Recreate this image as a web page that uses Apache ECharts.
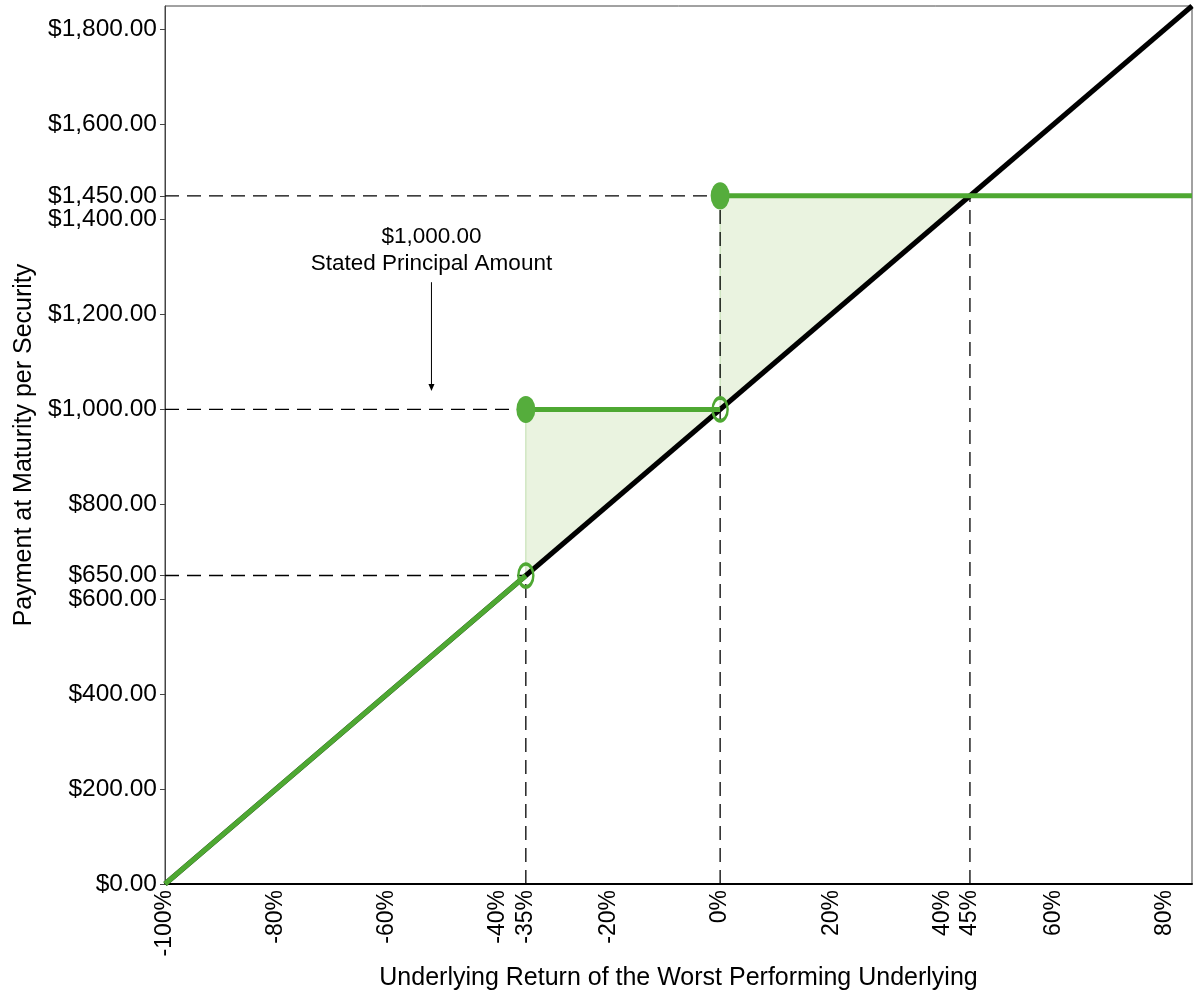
<!DOCTYPE html>
<html>
<head>
<meta charset="utf-8">
<script src="https://cdn.jsdelivr.net/npm/echarts@6/dist/echarts.min.js"></script>
<style>
  html, body { margin: 0; padding: 0; background: #fff; }
  #chart { width: 1200px; height: 1000px; }
</style>
</head>
<body>
<div id="chart"></div>
<script>
// payoff diagram data
var xTicks = [-100, -80, -60, -40, -35, -20, 0, 20, 40, 45, 60, 80];
var yTicks = [0, 200, 400, 600, 650, 800, 1000, 1200, 1400, 1450, 1600, 1800];
var underlyingLine = [[-100, 0], [85, 1850]];
var lowerLeg = [[-100, 0], [-35, 650]];
var midLeg = [[-35, 1000], [0, 1000]];
var upperLeg = [[0, 1450], [85, 1450]];
var filledDots = [[-35, 1000], [0, 1450]];
var openDots = [[-35, 650], [0, 1000]];
var shadeLower = [[-35, 650], [-35, 1000], [0, 1000]];
var shadeUpper = [[0, 1000], [0, 1450], [45, 1450]];
var guideLines = [
  [[-100, 1450], [0, 1450]],
  [[-100, 1000], [-35, 1000]],
  [[-100, 650], [-35, 650]],
  [[-35, 0], [-35, 650]],
  [[0, 0], [0, 1450]],
  [[45, 0], [45, 1450]]
];
var notePoint = [[-52, 1335]];
var noteText = '$1,000.00\nStated Principal Amount';
var arrowLine = [[-52, 1268], [-52, 1046]];

(function() {
  var green = '#4EA832';
  var dotGreen = '#55AD3C';
  var shade = '#EAF3E0';
  var font = "'Liberation Sans', Arial, sans-serif";

  var chart = echarts.init(document.getElementById('chart'), null, { renderer: 'canvas' });

  function money(v) {
    return '$' + v.toLocaleString('en-US', { minimumFractionDigits: 2, maximumFractionDigits: 2 });
  }

  function polygonSeries(pts) {
    return {
      type: 'custom',
      silent: true,
      z: 1,
      data: pts,
      renderItem: function(params, api) {
        if (params.dataIndex !== 0) return null;
        return {
          type: 'polygon',
          shape: { points: pts.map(function(p) { return api.coord(p); }) },
          style: { fill: shade, stroke: '#BFDDAE', lineWidth: 1 }
        };
      }
    };
  }

  var series = [polygonSeries(shadeLower), polygonSeries(shadeUpper)];

  guideLines.forEach(function(seg) {
    series.push({
      type: 'line',
      data: seg,
      symbol: 'none',
      silent: true,
      z: 2,
      lineStyle: { color: '#000', width: 1.3, type: [14, 8] }
    });
  });

  series.push({
    type: 'line',
    data: underlyingLine,
    symbol: 'none',
    z: 3,
    lineStyle: { color: '#000', width: 5 }
  });

  [lowerLeg, midLeg, upperLeg].forEach(function(seg) {
    series.push({
      type: 'line',
      data: seg,
      symbol: 'none',
      z: 4,
      lineStyle: { color: green, width: 5 }
    });
  });

  series.push({
    type: 'scatter',
    data: filledDots,
    symbol: 'circle',
    symbolSize: [19, 27],
    z: 5,
    itemStyle: { color: dotGreen, opacity: 1 }
  });

  series.push({
    type: 'scatter',
    data: openDots,
    symbol: 'circle',
    symbolSize: [15, 23],
    z: 5,
    itemStyle: { color: 'rgba(255,255,255,0)', borderColor: green, borderWidth: 3, opacity: 1 }
  });

  // annotation text and arrow
  series.push({
    type: 'scatter',
    data: notePoint,
    symbolSize: 0,
    silent: true,
    z: 6,
    itemStyle: { opacity: 1 },
    label: {
      show: true,
      position: 'inside',
      formatter: noteText,
      color: '#000',
      fontFamily: font,
      fontSize: 22.5,
      lineHeight: 27,
      align: 'center'
    }
  });

  series.push({
    type: 'line',
    data: arrowLine,
    symbol: 'none',
    showSymbol: false,
    silent: true,
    z: 6,
    lineStyle: { color: '#000', width: 1 },
    markLine: {
      silent: true,
      symbol: ['none', 'triangle'],
      symbolSize: [6, 7],
      lineStyle: { color: '#000', width: 0, type: 'solid' },
      label: { show: false },
      data: [[{ coord: arrowLine[0] }, { coord: arrowLine[1] }]]
    }
  });

  chart.setOption({
    animation: false,
    backgroundColor: '#fff',
    textStyle: { fontFamily: font, color: '#000' },
    grid: {
      left: 165,
      right: 8,
      top: 6,
      bottom: 116,
      show: true,
      borderColor: '#444',
      borderWidth: 1,
      containLabel: false
    },
    xAxis: {
      type: 'value',
      min: -100,
      max: 85,
      name: 'Underlying Return of the Worst Performing Underlying',
      nameLocation: 'middle',
      nameGap: 82,
      nameTextStyle: { fontSize: 25, color: '#000', fontFamily: font },
      axisLine: { show: true, onZero: false, lineStyle: { color: '#000', width: 2 } },
      axisTick: { show: false },
      splitLine: { show: false },
      axisLabel: {
        customValues: xTicks,
        rotate: 90,
        fontSize: 23,
        color: '#000',
        margin: 6,
        hideOverlap: false,
        formatter: function(v) { return v + '%'; }
      }
    },
    yAxis: {
      type: 'value',
      min: 0,
      max: 1850,
      name: 'Payment at Maturity per Security',
      nameLocation: 'middle',
      nameGap: 124,
      nameTextStyle: { fontSize: 25, color: '#000', fontFamily: font },
      axisLine: { show: true, onZero: false, lineStyle: { color: '#444', width: 1 } },
      axisTick: { show: true, customValues: yTicks, length: 5, lineStyle: { color: '#444' } },
      splitLine: { show: false },
      axisLabel: {
        customValues: yTicks,
        fontSize: 24.5,
        color: '#000',
        margin: 8,
        hideOverlap: false,
        formatter: money
      }
    },
    series: series
  });
})();
</script>
</body>
</html>
